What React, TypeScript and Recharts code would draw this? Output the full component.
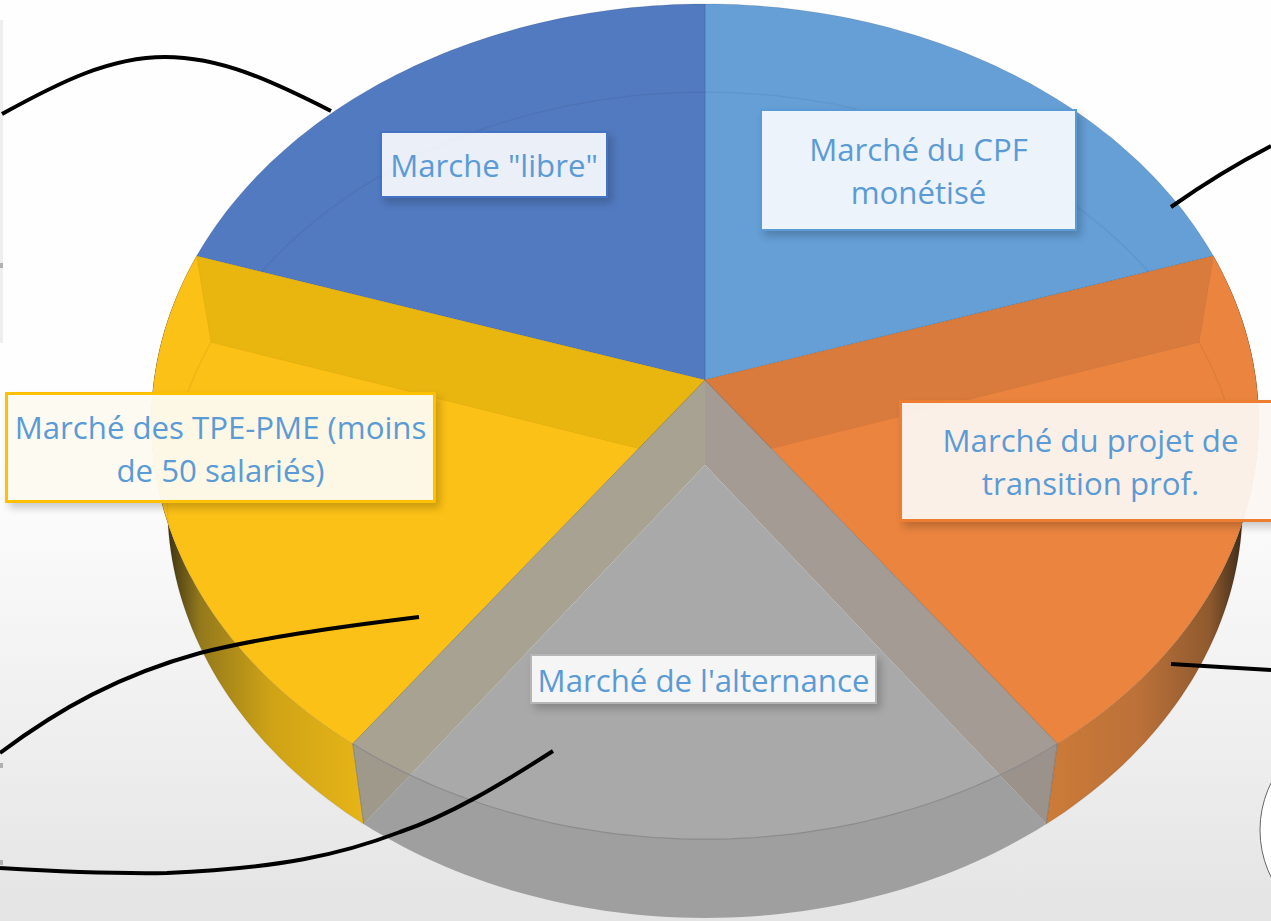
import { PieChart, Pie } from 'recharts';

const categories = [
  'Marché du CPF monétisé',
  'Marché du projet de transition prof.',
  "Marché de l'alternance",
  'Marché des TPE-PME (moins de 50 salariés)',
  'Marche "libre"',
];
const shares = [20, 20, 20, 20, 20];
const faceColors = ['#659fd6', '#eb843f', '#a9a9a9', '#fcc116', '#527ac0'];
const bandColors = [null, '#d97b3c', null, '#e9b50f', null];
const labelLines = [
  ['Marché du CPF', 'monétisé'],
  ['Marché du projet de', 'transition prof.'],
  ["Marché de l'alternance"],
  ['Marché des TPE-PME (moins', 'de 50 salariés)'],
  ['Marche "libre"'],
];

const rows = categories.map((name, i) => ({ name, value: shares[i], fill: faceColors[i], band: bandColors[i] }));

const GREY = categories[2];
const WIDTH = 1271;
const HEIGHT = 921;

const TOP = { dy: 0, a: 1, b: 413.5 / 551, p: 0.0996 };
const BOTTOM = { dy: 85, a: 0.971, b: 409 / 551, p: 0.097 };

function project(s: any, theta: number, face: typeof TOP) {
  const rad = (theta * Math.PI) / 180;
  const w = 1 + face.p * Math.cos(rad);
  return [
    s.cx + (s.outerRadius * face.a * Math.sin(rad)) / w,
    s.cy + face.dy - (s.outerRadius * face.b * Math.cos(rad)) / w,
  ];
}

function rim(s: any, face: typeof TOP) {
  const from = 90 - s.startAngle;
  const to = 90 - s.endAngle;
  const pts = [];
  for (let i = 0; i <= 60; i++) pts.push(project(s, from + ((to - from) * i) / 60, face));
  return pts;
}

const toPath = (pts: number[][], close = true) =>
  'M' + pts.map((p) => `${p[0].toFixed(1)} ${p[1].toFixed(1)}`).join('L') + (close ? 'Z' : '');

const hub = (s: any, face: typeof TOP) => [s.cx, s.cy + face.dy];

function WallShape(s: any) {
  const i = categories.indexOf(s.name);
  if (i !== 1 && i !== 3) return <g />;
  const id = `wall-${i}`;
  const stops =
    i === 1
      ? { x1: 1047, x2: 1250, c: ['#cc7b38', '#bc7139', '#8f5a2e', '#2c2116'] }
      : { x1: 362, x2: 160, c: ['#e6b417', '#cfa316', '#94791c', '#2a2412'] };
  const path = toPath([...rim(s, TOP), ...rim(s, BOTTOM).reverse()]);
  return (
    <g>
      <defs>
        <linearGradient id={id} gradientUnits="userSpaceOnUse" x1={stops.x1} x2={stops.x2} y1={0} y2={0}>
          <stop offset="0" stopColor={stops.c[0]} />
          <stop offset="0.45" stopColor={stops.c[1]} />
          <stop offset="0.8" stopColor={stops.c[2]} />
          <stop offset="1" stopColor={stops.c[3]} />
        </linearGradient>
      </defs>
      <path d={path} fill={`url(#${id})`} />
    </g>
  );
}

function FaceShape(s: any) {
  if (s.name === GREY) return <g />;
  return <path d={toPath([hub(s, TOP), ...rim(s, TOP)])} fill={s.fill} stroke="rgba(0,0,0,0.1)" strokeWidth={1} />;
}

// the bottom rim shows faintly through the top faces
function RimShape(s: any) {
  if (s.name === GREY) return <g />;
  return <path d={toPath(rim(s, BOTTOM), false)} fill="none" stroke="rgba(0,0,0,0.05)" strokeWidth={1.5} />;
}

// inner wall, hanging from the edge shared with the sector behind
function BandShape(s: any) {
  const band = s.payload?.band ?? s.band;
  if (!band) return <g />;
  const edge = s.name === categories[1] ? 0 : 60;
  return (
    <path
      d={toPath([hub(s, TOP), hub(s, BOTTOM), rim(s, BOTTOM)[edge], rim(s, TOP)[edge]])}
      fill={band}
      stroke="rgba(0,0,0,0.04)"
    />
  );
}

function GreyShape(s: any) {
  if (s.name !== GREY) return <g />;
  const top = rim(s, TOP);
  const low = rim(s, BOTTOM);
  return (
    <g>
      <path d={toPath([hub(s, TOP), hub(s, BOTTOM), low[60], top[60]])} fill="#a8a292" />
      <path d={toPath([hub(s, TOP), hub(s, BOTTOM), low[0], top[0]])} fill="#a49b94" />
      <path d={toPath([hub(s, BOTTOM), ...low])} fill="#a9a9a9" />
      <path d={toPath([...top, ...[...low].reverse()])} fill="rgba(0,0,0,0.055)" />
      <path d={toPath(top, false)} fill="none" stroke="#8c8c8c" strokeWidth={1.2} />
      <path d={toPath([top[0], hub(s, TOP), top[60]], false)} fill="none" stroke="rgba(90,90,80,0.35)" strokeWidth={1} />
      <path d={toPath([top[0], low[0]], false)} fill="none" stroke="rgba(90,90,90,0.45)" />
      <path d={toPath([top[60], low[60]], false)} fill="none" stroke="rgba(90,90,90,0.45)" />
    </g>
  );
}

const labelBoxes = [
  { left: 760, top: 109, width: 317, height: 122, border: '#5b9bd5', bw: 2, bg: 'rgba(255,255,255,0.88)' },
  { left: 899, top: 400, width: 383, height: 122, border: '#ed7d31', bw: 3, bg: 'rgba(252,246,242,0.94)' },
  { left: 530, top: 654, width: 347, height: 50, border: '#b5b5b5', bw: 2, bg: 'rgba(255,255,255,0.88)' },
  { left: 5, top: 392, width: 431, height: 111, border: '#ffc000', bw: 3, bg: 'rgba(253,250,240,0.95)' },
  { left: 380, top: 131, width: 228, height: 67, border: '#4472c4', bw: 2, bg: 'rgba(255,255,255,0.88)' },
];

const curves = [
  'M2 114 C 60 82, 110 57, 165 57 C 220 57, 270 80, 331 111',
  'M419 617 C 330 628, 260 638, 200 653 C 120 675, 60 708, 0 753',
  'M553 751 C 500 785, 450 815, 400 832 C 340 855, 280 868, 167 873 C 110 874, 50 871, 0 868',
  'M1171 207 C 1205 183, 1240 162, 1271 146',
  'M1171 664 C 1205 666, 1240 668, 1271 670',
];

const edgeMarks = [263, 763, 860];

function Layer({ shape }: { shape: any }) {
  return (
    <Pie
      data={rows}
      dataKey="value"
      nameKey="name"
      cx={705}
      cy={380}
      outerRadius={551}
      startAngle={90}
      endAngle={-270}
      stroke="none"
      isAnimationActive={false}
      shape={shape}
    />
  );
}

export default function App() {
  return (
    <div
      style={{
        position: 'absolute',
        left: 0,
        top: 0,
        width: WIDTH,
        height: HEIGHT,
        overflow: 'hidden',
        background: 'linear-gradient(#fefefe 0%, #fefefe 50%, #e4e4e4 100%)',
        fontFamily: '"Open Sans", sans-serif',
      }}
    >
      <div style={{ position: 'absolute', left: 0, top: 20, width: 3, height: 323, background: '#eeeeee' }} />
      {edgeMarks.map((y) => (
        <div key={y} style={{ position: 'absolute', left: 0, top: y, width: 3, height: 5, background: '#b0b0b0' }} />
      ))}
      <PieChart width={WIDTH} height={HEIGHT} margin={{ top: 0, right: 0, bottom: 0, left: 0 }} style={{ position: 'absolute', left: 0, top: 0 }}>
        {Layer({ shape: WallShape })}
        {Layer({ shape: FaceShape })}
        {Layer({ shape: RimShape })}
        {Layer({ shape: BandShape })}
        {Layer({ shape: GreyShape })}
      </PieChart>
      <svg width={WIDTH} height={HEIGHT} style={{ position: 'absolute', left: 0, top: 0 }}>
        <circle cx={1366} cy={830} r={106} fill="#ffffff" stroke="#666666" strokeWidth={1} />
        {curves.map((d, i) => (
          <path key={i} d={d} fill="none" stroke="#000000" strokeWidth={4} />
        ))}
      </svg>
      {labelBoxes.map((b, i) => (
        <div
          key={i}
          style={{
            position: 'absolute',
            boxSizing: 'border-box',
            left: b.left,
            top: b.top,
            width: b.width,
            height: b.height,
            border: `${b.bw}px solid ${b.border}`,
            background: b.bg,
            boxShadow: '4px 5px 8px rgba(0,0,0,0.2)',
            display: 'flex',
            flexDirection: 'column',
            justifyContent: 'center',
            alignItems: 'center',
            paddingTop: 2,
            color: '#5b9bd5',
            fontSize: 31.2,
            lineHeight: '43px',
            whiteSpace: 'nowrap',
          }}
        >
          {labelLines[i].map((line) => (
            <div key={line}>{line}</div>
          ))}
        </div>
      ))}
    </div>
  );
}
